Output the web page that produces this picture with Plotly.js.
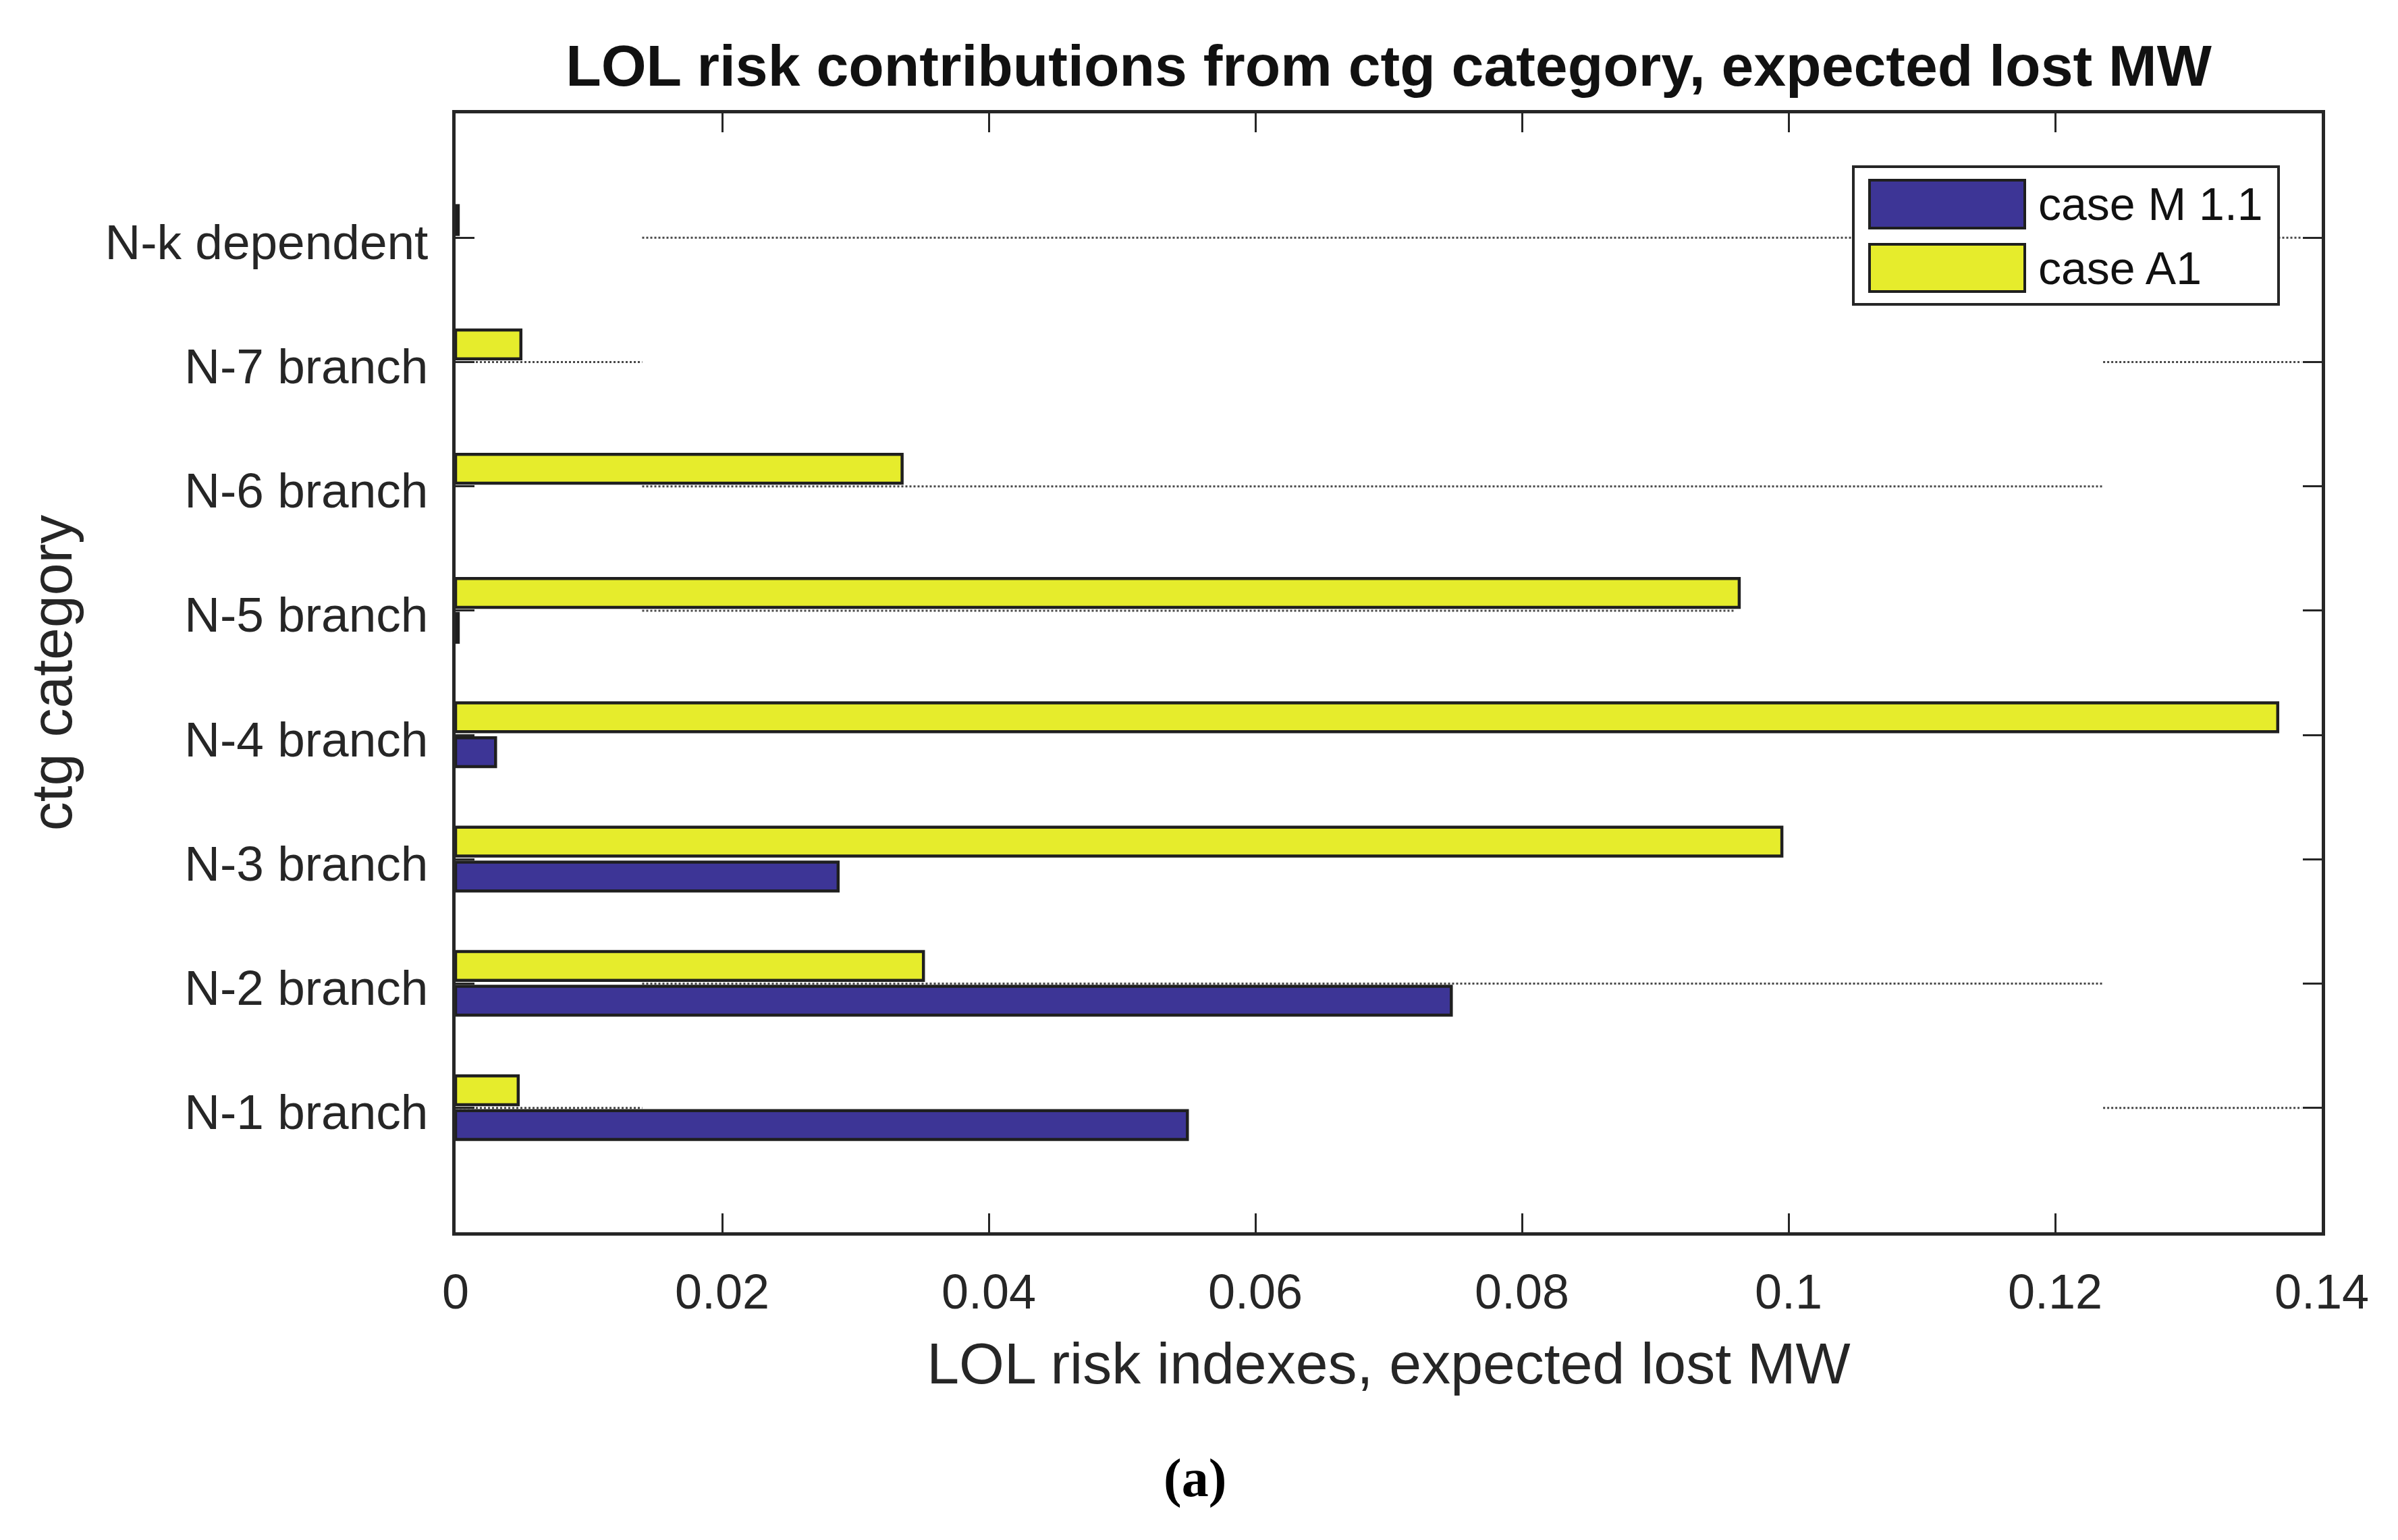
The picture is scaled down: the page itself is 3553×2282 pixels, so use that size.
<!DOCTYPE html>
<html>
<head>
<meta charset="utf-8">
<script src="https://cdn.plot.ly/plotly-3.0.1.min.js"></script>
<style>html,body{margin:0;padding:0;background:#fff;}#chart{width:3553px;height:2282px;}</style>
</head>
<body>
<div id="chart"></div>
<script>
// ---- data ----
const categories = ["N-1 branch","N-2 branch","N-3 branch","N-4 branch","N-5 branch","N-6 branch","N-7 branch","N-k dependent"];
const seriesNames = ["case M 1.1","case A1"];
const caseM11 = [0.0549, 0.0747, 0.0287, 0.0030, 0.0002, 0, 0, 0];
const caseA1  = [0.0047, 0.0351, 0.0995, 0.1367, 0.0963, 0.0335, 0.0049, 0.0002];
const xTickVals = [0, 0.02, 0.04, 0.06, 0.08, 0.1, 0.12, 0.14];
const xTickText = ["0","0.02","0.04","0.06","0.08","0.1","0.12","0.14"];

const blue = "#3d3596", yellow = "#e6ec2c", edge = "#1f1f1f", ink = "#262626";
const font = "Liberation Sans, Arial, Helvetica, sans-serif";

const W = 3553, H = 2282;
const M = {l:675, r:113, t:168, b:456};
const pw = W - M.l - M.r, ph = H - M.t - M.b;
const px = x => (x - M.l) / pw;          // pixel x -> paper
const py = y => (H - M.b - y) / ph;      // pixel y -> paper

const outline = v => v.map(d => d > 0 ? 4.5 : 0);

const traces = [
  {type:"bar", orientation:"h", name:seriesNames[0], y:categories, x:caseM11,
   width:0.232, offset:-0.254, marker:{color:blue, line:{color:edge, width:outline(caseM11)}}, hoverinfo:"x+name"},
  {type:"bar", orientation:"h", name:seriesNames[1], y:categories, x:caseA1,
   width:0.232, offset:0.026, marker:{color:yellow, line:{color:edge, width:outline(caseA1)}}, hoverinfo:"x+name"}
];

// faint dotted grid fragments as they appear in the original rendering
function grid(cat, x0, x1){
  return {type:"line", xref:"x", yref:"y", x0:x0, x1:x1, y0:cat, y1:cat, layer:"below",
          line:{color:"#484848", width:3, dash:"dot"}};
}
const shapes = [
  grid(categories[7], 0.014, 0.1385),
  grid(categories[6], 0.0, 0.014), grid(categories[6], 0.1236, 0.1385),
  grid(categories[5], 0.014, 0.1236),
  grid(categories[4], 0.014, 0.096),
  grid(categories[1], 0.014, 0.1236),
  grid(categories[0], 0.0, 0.014), grid(categories[0], 0.1236, 0.1385),
  // custom legend box and swatches
  {type:"rect", xref:"paper", yref:"paper", x0:px(2746), x1:px(3376), y0:py(451), y1:py(247),
   fillcolor:"#ffffff", line:{color:ink, width:4}},
  {type:"rect", xref:"paper", yref:"paper", x0:px(2770), x1:px(3000), y0:py(338), y1:py(267),
   fillcolor:blue, line:{color:edge, width:4}},
  {type:"rect", xref:"paper", yref:"paper", x0:px(2770), x1:px(3000), y0:py(432), y1:py(362),
   fillcolor:yellow, line:{color:edge, width:4}}
];

const annotations = [
  {xref:"paper", yref:"paper", x:px(3018), y:py(302), xanchor:"left", yanchor:"middle", showarrow:false,
   text:seriesNames[0], font:{family:font, size:68, color:"#111"}},
  {xref:"paper", yref:"paper", x:px(3018), y:py(397), xanchor:"left", yanchor:"middle", showarrow:false,
   text:seriesNames[1], font:{family:font, size:68, color:"#111"}},
  {xref:"paper", yref:"paper", x:px(1770), y:py(2190), xanchor:"center", yanchor:"middle", showarrow:false,
   text:"<b>(a)</b>", font:{family:"Liberation Serif, Times New Roman, serif", size:80, color:"#000"}}
];

const layout = {
  width:W, height:H,
  margin:{l:M.l, r:M.r, t:M.t, b:M.b, pad:0},
  paper_bgcolor:"#fff", plot_bgcolor:"#fff",
  showlegend:false,
  barmode:"overlay",
  font:{family:font, color:ink},
  title:{text:"<b>LOL risk contributions from ctg category, expected lost MW</b>",
         font:{family:font, size:86, color:"#111"},
         xref:"paper", x:0.5, xanchor:"center", yref:"container", y:1 - 97/H, yanchor:"middle"},
  xaxis:{range:[0,0.14], tickvals:xTickVals, ticktext:xTickText,
         ticks:"inside", ticklen:28, tickwidth:3, tickcolor:ink,
         showline:true, linecolor:ink, linewidth:5, mirror:"ticks",
         showgrid:false, zeroline:false, tickfont:{family:font, size:72, color:ink},
         ticklabelstandoff:22,
         title:{text:"LOL risk indexes, expected lost MW", font:{family:font, size:86, color:ink}, standoff:38},
         automargin:false, fixedrange:true},
  yaxis:{type:"category", categoryorder:"array", categoryarray:categories, range:[-1,8],
         ticks:"inside", ticklen:28, tickwidth:3, tickcolor:ink,
         showline:true, linecolor:ink, linewidth:5, mirror:"ticks",
         showgrid:false, zeroline:false, tickfont:{family:font, size:73, color:ink},
         ticklabelstandoff:21, ticklabelshift:6,
         title:{text:"ctg category", font:{family:font, size:86, color:ink}, standoff:22},
         automargin:false, fixedrange:true},
  shapes:shapes, annotations:annotations
};

Plotly.newPlot("chart", traces, layout, {displayModeBar:false, staticPlot:true});
</script>
</body>
</html>
